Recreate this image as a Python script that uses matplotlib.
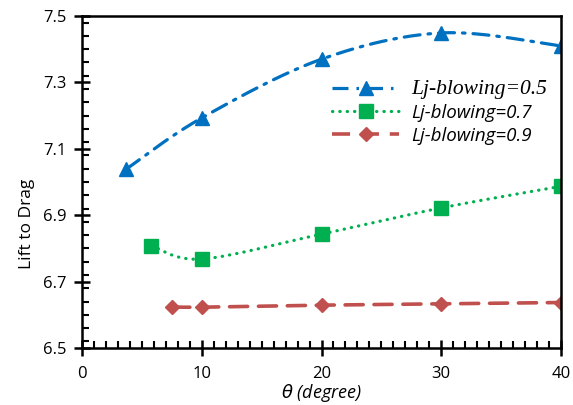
import numpy as np
import matplotlib
matplotlib.use("Agg")
import matplotlib.pyplot as plt
from matplotlib.ticker import MultipleLocator, FixedLocator
from matplotlib.lines import Line2D

# Data
theta_05 = [3.7, 10, 20, 30, 40]
ld_05 = [7.039, 7.193, 7.370, 7.449, 7.410]
theta_07 = [5.8, 10, 20, 30, 40]
ld_07 = [6.808, 6.768, 6.843, 6.922, 6.987]
theta_09 = [7.5, 10, 20, 30, 40]
ld_09 = [6.624, 6.623, 6.629, 6.633, 6.637]
labels = ["Lj-blowing=0.5", "Lj-blowing=0.7", "Lj-blowing=0.9"]
xticks = [0, 10, 20, 30, 40]
yticks = [6.5, 6.7, 6.9, 7.1, 7.3, 7.5]

blue = "#0070C0"
green = "#00B050"
red = "#C0504D"


def smooth(xs, ys, n=40):
    """Excel-like smoothed line: cubic Bezier with Catmull-Rom control points."""
    P = np.column_stack([xs, ys]).astype(float)
    out = [P[0]]
    m = len(P)
    for i in range(m - 1):
        p0 = P[i - 1] if i > 0 else P[i]
        p1 = P[i]
        p2 = P[i + 1]
        p3 = P[i + 2] if i + 2 < m else P[i + 1]
        c1 = p1 + (p2 - p0) / 6.0
        c2 = p2 - (p3 - p1) / 6.0
        t = np.linspace(0, 1, n)[1:, None]
        seg = ((1 - t) ** 3) * p1 + 3 * ((1 - t) ** 2) * t * c1 + 3 * (1 - t) * t ** 2 * c2 + t ** 3 * p2
        out.extend(seg)
    out = np.array(out)
    return out[:, 0], out[:, 1]


fig = plt.figure(figsize=(5.73, 4.05), dpi=100)
ax = fig.add_axes([82 / 573, 57 / 405, (561 - 82) / 573, (348 - 16) / 405])

lw = 2.3
ls05 = (0, (5, 2.5, 0.8, 2.5))
ls07 = (0, (0.1, 2.2))
ls09 = (0, (5, 3))
sx, sy = smooth(theta_05, ld_05)
ax.plot(sx, sy, color=blue, lw=lw, linestyle=ls05, dash_capstyle="round")
ax.plot(theta_05, ld_05, linestyle="none", marker="^", ms=10.5, color=blue)

sx, sy = smooth(theta_07, ld_07)
ax.plot(sx, sy, color=green, lw=lw, linestyle=ls07, dash_capstyle="round")
ax.plot(theta_07, ld_07, linestyle="none", marker="s", ms=10, color=green)

sx, sy = smooth(theta_09, ld_09)
ax.plot(sx, sy, color=red, lw=lw + 0.3, linestyle=ls09, dash_capstyle="round")
ax.plot(theta_09, ld_09, linestyle="none", marker="D", ms=7, color=red)

ax.set_xlim(0, 40)
ax.set_ylim(6.5, 7.5)
ax.xaxis.set_major_locator(FixedLocator(xticks))
ax.yaxis.set_major_locator(FixedLocator(yticks))
ax.xaxis.set_minor_locator(MultipleLocator(1))
ax.yaxis.set_minor_locator(MultipleLocator(0.04))

tickfont = "Open Sans"
for s in ax.spines.values():
    s.set_linewidth(1.8)
    s.set_color("black")
ax.tick_params(which="major", direction="inout", length=12, width=1.8, labelsize=12, pad=5)
ax.tick_params(which="minor", direction="in", length=5, width=1.5)
ax.tick_params(which="both", top=False, right=False)
ax.set_xticklabels([str(v) for v in xticks], fontfamily=tickfont)
ax.set_yticklabels([f"{v:.1f}" for v in yticks], fontfamily=tickfont)
ax.tick_params(axis="x", pad=7)

ax.set_ylabel("Lift to Drag", fontfamily=tickfont, fontsize=12.5, labelpad=2)
ax.yaxis.set_label_coords(-0.098, 0.373)
ax.set_xlabel(r"$\theta$ (degree)", fontfamily=tickfont, fontstyle="italic", fontsize=13, labelpad=0)

h1 = Line2D([], [], color=blue, lw=lw, linestyle=ls05, marker="^", ms=10.5)
h2 = Line2D([], [], color=green, lw=lw, linestyle=ls07, dash_capstyle="round", marker="s", ms=10)
h3 = Line2D([], [], color=red, lw=lw + 0.3, linestyle=ls09, marker="D", ms=7)
leg = ax.legend([h1, h2, h3], labels, loc="upper left", bbox_to_anchor=(0.522, 0.806),
                frameon=False, handlelength=3.45, handletextpad=0.6, labelspacing=0.25,
                borderaxespad=0, borderpad=0, prop={"size": 14})
texts = leg.get_texts()
texts[0].set_fontfamily("Liberation Serif")
texts[0].set_fontstyle("italic")
texts[0].set_fontsize(15.5)
for t in texts[1:]:
    t.set_fontfamily(tickfont)
    t.set_fontstyle("italic")
    t.set_fontsize(13.5)

fig.savefig("out.png", dpi=100)
